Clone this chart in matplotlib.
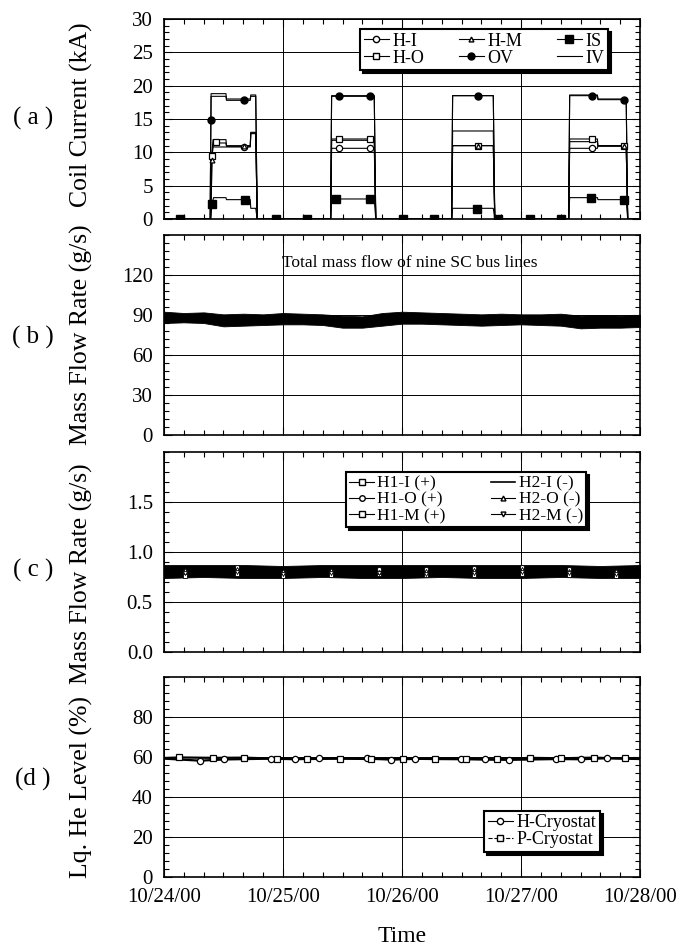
import matplotlib.pyplot as plt
from matplotlib.lines import Line2D
from matplotlib.ticker import MultipleLocator, FormatStrFormatter

plt.rcParams['font.family'] = ['Liberation Serif', 'DejaVu Serif']

# time axis in hours from 10/24/00 00:00
day_hours = [0, 24, 48, 72, 96]
day_labels = ['10/24/00', '10/25/00', '10/26/00', '10/27/00', '10/28/00']

# ==== (a) coil currents (kA) ====
iv_t = [0, 9.3, 9.5, 12.5, 12.6, 17.4, 17.5, 18.5, 18.8, 33.6, 33.8, 42.4, 42.7,
        58.0, 58.2, 66.4, 66.7, 81.6, 81.8, 87.4, 87.5, 93.2, 93.5, 96]
iv_v = [0, 0, 18.8, 18.8, 18.0, 18.0, 18.6, 18.6, 0, 0, 18.5, 18.5, 0,
        0, 18.5, 18.5, 0, 0, 18.6, 18.6, 18.0, 18.0, 0, 0]
ov_t = [0, 9.3, 9.5, 12.5, 12.6, 17.4, 17.5, 18.5, 18.8, 33.6, 33.8, 42.4, 42.7,
        58.0, 58.2, 66.4, 66.7, 81.6, 81.8, 87.4, 87.5, 93.2, 93.5, 96]
ov_v = [0, 0, 18.4, 18.4, 17.8, 17.8, 18.4, 18.4, 0, 0, 18.4, 18.4, 0,
        0, 18.5, 18.5, 0, 0, 18.5, 18.5, 17.9, 17.9, 0, 0]
hi_t = [0, 9.4, 9.8, 17.4, 17.5, 18.5, 18.8, 33.6, 33.8, 42.4, 42.7,
        58.0, 58.2, 66.4, 66.7, 81.6, 81.8, 87.4, 87.5, 93.2, 93.5, 96]
hi_v = [0, 0, 10.8, 10.8, 12.9, 12.9, 0, 0, 10.6, 10.6, 0,
        0, 13.2, 13.2, 0, 0, 10.6, 10.6, 11.0, 11.0, 0, 0]
ho_t = [0, 9.4, 9.6, 9.9, 12.5, 12.6, 17.4, 17.5, 18.5, 18.8, 33.6, 33.8, 42.4, 42.7,
        58.0, 58.2, 66.4, 66.7, 81.6, 81.8, 87.4, 87.5, 93.2, 93.5, 96]
ho_v = [0, 0, 9.4, 11.9, 11.9, 11.0, 11.0, 13.0, 13.0, 0, 0, 12.0, 12.0, 0,
        0, 11.0, 11.0, 0, 0, 12.0, 12.0, 11.0, 11.0, 0, 0]
hm_t = [0, 9.4, 9.6, 10.0, 12.5, 12.6, 17.4, 17.5, 18.5, 18.8, 33.6, 33.8, 42.4, 42.7,
        58.0, 58.2, 66.4, 66.7, 81.6, 81.8, 87.4, 87.5, 93.2, 93.5, 96]
hm_v = [0, 0, 8.9, 11.4, 11.4, 10.9, 10.9, 12.8, 12.8, 0, 0, 11.8, 11.8, 0,
        0, 11.0, 11.0, 0, 0, 11.6, 11.6, 10.9, 10.9, 0, 0]
is_t = [0, 9.4, 9.7, 10.0, 12.5, 12.6, 17.4, 17.5, 18.5, 18.8, 33.6, 33.8, 42.4, 42.7,
        58.0, 58.2, 66.4, 66.7, 81.6, 81.8, 87.4, 87.5, 93.2, 93.5, 96]
is_v = [0, 0, 2.3, 3.2, 3.2, 2.9, 2.9, 1.6, 1.6, 0, 0, 3.0, 3.0, 0,
        0, 1.6, 1.6, 0, 0, 3.2, 3.2, 2.9, 2.9, 0, 0]

# marker positions (sparse symbols on the curves)
hi_mt = [16.1, 35.2, 41.6, 86.4]
hi_mv = [10.8, 10.6, 10.6, 10.6]
ho_mt = [9.6, 10.4, 35.2, 41.6, 63.3, 86.4, 92.7]
ho_mv = [9.4, 11.6, 12.0, 12.0, 11.0, 12.0, 11.0]
hm_mt = [9.6, 16.1, 63.3, 92.7]
hm_mv = [8.9, 10.9, 11.0, 10.9]
ov_mt = [9.4, 16.1, 35.2, 41.6, 63.3, 86.4, 92.7]
ov_mv = [14.9, 17.8, 18.4, 18.4, 18.5, 18.5, 17.9]
is_mt = [3.2, 9.7, 16.3, 22.6, 28.9, 34.7, 41.6, 48.1, 54.5, 63.1, 67.4, 73.8, 80.1, 86.2, 92.7]
is_mv = [0, 2.3, 2.9, 0, 0, 3.0, 3.0, 0, 0, 1.5, 0, 0, 0, 3.2, 2.9]

# ==== (b) total mass flow envelope (g/s), every 4 h ====
b_t = [0, 4, 8, 12, 16, 20, 24, 28, 32, 36, 40, 44, 48,
       52, 56, 60, 64, 68, 72, 76, 80, 84, 88, 92, 96]
b_hi = [92.5, 91.5, 92.0, 90.5, 91.0, 90.5, 91.5, 91.0, 90.5, 89.5, 89.0, 91.5, 92.5,
        92.0, 91.5, 91.0, 90.5, 91.0, 90.5, 90.5, 91.0, 89.5, 90.0, 89.5, 90.0]
b_lo = [84.0, 84.5, 84.0, 81.5, 82.0, 82.5, 83.0, 83.0, 82.5, 80.5, 80.5, 82.0, 83.5,
        83.5, 83.0, 82.5, 82.0, 82.5, 83.0, 82.5, 82.0, 80.0, 80.5, 80.5, 81.0]

# ==== (c) bus line mass flow (g/s) ====
c_t = [0, 8, 16, 24, 32, 40, 48, 56, 64, 72, 80, 88, 96]
c_hi = [0.87, 0.87, 0.87, 0.86, 0.87, 0.87, 0.87, 0.87, 0.87, 0.87, 0.87, 0.86, 0.87]
c_lo = [0.74, 0.75, 0.74, 0.74, 0.75, 0.74, 0.74, 0.75, 0.74, 0.74, 0.75, 0.74, 0.74]
c_mt = [4.3, 14.7, 23.9, 33.6, 43.4, 52.9, 62.5, 72.1, 81.6, 91.2]
h1i_v = [0.80, 0.81, 0.79, 0.80, 0.81, 0.80, 0.80, 0.81, 0.80, 0.79]
h1o_v = [0.78, 0.85, 0.77, 0.78, 0.83, 0.83, 0.84, 0.85, 0.83, 0.80]
h1m_v = [0.76, 0.78, 0.76, 0.77, 0.78, 0.77, 0.77, 0.78, 0.77, 0.76]
h2o_v = [0.82, 0.83, 0.81, 0.82, 0.80, 0.81, 0.82, 0.83, 0.81, 0.81]
h2m_v = [0.79, 0.80, 0.78, 0.79, 0.79, 0.78, 0.79, 0.80, 0.79, 0.78]

# ==== (d) liquid He level (%) ====
hcry_t = [0, 7.3, 12.2, 21.5, 26.5, 31.3, 40.9, 45.8, 50.7, 59.8, 64.7, 69.6, 79.1, 84.0, 89.3, 96]
hcry_v = [59.2, 58.2, 58.8, 59.2, 58.9, 59.4, 59.3, 58.7, 59.1, 59.2, 58.8, 58.6, 59.0, 58.9, 59.4, 59.0]
pcry_t = [0, 3.1, 9.8, 16.2, 22.7, 28.9, 35.4, 41.8, 48.2, 54.7, 60.9, 67.1, 73.8, 80.0, 86.7, 92.9, 96]
pcry_v = [59.5, 59.8, 59.6, 59.7, 59.2, 59.0, 59.2, 59.0, 59.2, 59.0, 58.9, 58.9, 59.6, 59.4, 59.7, 59.3, 59.5]

fig = plt.figure(figsize=(6.89, 9.5), dpi=100)
L, W, H = 0.238, 0.691, 0.2105
bottoms = [0.7695, 0.5421, 0.3137, 0.0768]
axes = [fig.add_axes([L, b, W, H]) for b in bottoms]


def style_axis(ax, yticks, ylim, yminor, ylabel, label_y=0.5):
    ax.set_xlim(0, 96)
    ax.set_ylim(*ylim)
    ax.set_xticks(day_hours)
    ax.xaxis.set_minor_locator(MultipleLocator(4))
    ax.set_yticks(yticks)
    ax.yaxis.set_minor_locator(MultipleLocator(yminor))
    ax.tick_params(which='both', direction='in', top=True, right=True, labelsize=15)
    ax.tick_params(which='major', length=6, width=0.8, pad=8)
    ax.tick_params(which='minor', length=3.5, width=0.8)
    ax.grid(True, which='major', color='k', lw=0.7)
    for s in ax.spines.values():
        s.set_linewidth(1.2)
    ax.set_ylabel(ylabel, fontsize=18.5)
    ax.yaxis.set_label_coords(-0.15, label_y)


def boxed_legend(ax, handles, fs=12.5, **kw):
    leg = ax.legend(handles=handles, fancybox=False, shadow={'color': 'k', 'alpha': 1},
                    framealpha=1, edgecolor='k', fontsize=fs, handlelength=1.4,
                    handletextpad=0.2, borderpad=0.2, labelspacing=0.0,
                    borderaxespad=0, **kw)
    leg.get_frame().set_linewidth(1.5)
    return leg


# ---- (a) ----
ax = axes[0]
for t, v in [(iv_t, iv_v), (ov_t, ov_v), (hi_t, hi_v), (ho_t, ho_v), (hm_t, hm_v), (is_t, is_v)]:
    ax.plot(t, v, color='k', lw=0.8)
ax.plot(hi_mt, hi_mv, 'o', ms=4.5, mfc='w', mec='k', mew=0.9)
ax.plot(ho_mt, ho_mv, 's', ms=4.5, mfc='w', mec='k', mew=0.9)
ax.plot(hm_mt, hm_mv, '^', ms=3.5, mfc='w', mec='k', mew=0.9)
ax.plot(ov_mt, ov_mv, 'o', ms=5, color='k')
ax.plot(is_mt, is_mv, 's', ms=6, color='k')
style_axis(ax, [0, 5, 10, 15, 20, 25, 30], (0, 30), 1, 'Coil Current (kA)', 0.52)
ax.set_xticklabels([])
hdl = [Line2D([], [], color='k', lw=0.8, marker='o', ms=4.5, mfc='w', label='H-I'),
       Line2D([], [], color='k', lw=0.8, marker='s', ms=4.5, mfc='w', label='H-O'),
       Line2D([], [], color='k', lw=0.8, marker='^', ms=3.5, mfc='w', label='H-M'),
       Line2D([], [], color='k', lw=0.8, marker='o', ms=5, label='OV'),
       Line2D([], [], color='k', lw=0.8, marker='s', ms=6, label='IS'),
       Line2D([], [], color='k', lw=0.8, label='IV')]
boxed_legend(ax, hdl, fs=13, ncol=3, loc='upper right', bbox_to_anchor=(0.933, 0.95),
             columnspacing=1.9)

# ---- (b) ----
ax = axes[1]
ax.fill_between(b_t, b_lo, b_hi, color='k', lw=0.6)
ax.text(49.6, 129, 'Total mass flow of nine SC bus lines', ha='center', va='center', fontsize=12.5)
style_axis(ax, [0, 30, 60, 90, 120], (0, 150), 6, 'Mass Flow Rate (g/s)')
ax.set_xticklabels([])

# ---- (c) ----
ax = axes[2]
ax.fill_between(c_t, c_lo, c_hi, color='k', lw=0.6)
ax.plot(c_mt, h1i_v, 's', ms=3, mfc='w', mec='k', mew=0.6)
ax.plot(c_mt, h1o_v, 'o', ms=3, mfc='w', mec='k', mew=0.6)
ax.plot(c_mt, h1m_v, 's', ms=3, mfc='w', mec='k', mew=0.6)
ax.plot(c_mt, h2o_v, '^', ms=3, mfc='w', mec='k', mew=0.6)
ax.plot(c_mt, h2m_v, 'v', ms=3, mfc='w', mec='k', mew=0.6)
style_axis(ax, [0, 0.5, 1.0, 1.5], (0, 2.0), 0.1, 'Mass Flow Rate (g/s)', 0.39)
ax.yaxis.set_major_formatter(FormatStrFormatter('%.1f'))
ax.set_xticklabels([])
hdl = [Line2D([], [], color='k', lw=0.8, marker='s', ms=4, mfc='w', label='H1-I (+)'),
       Line2D([], [], color='k', lw=0.8, marker='o', ms=4, mfc='w', label='H1-O (+)'),
       Line2D([], [], color='k', lw=0.8, marker='s', ms=4, mfc='w', label='H1-M (+)'),
       Line2D([], [], color='k', lw=1.2, label='H2-I (-)'),
       Line2D([], [], color='k', lw=0.8, marker='^', ms=3.5, mfc='w', label='H2-O (-)'),
       Line2D([], [], color='k', lw=0.8, marker='v', ms=3.5, mfc='w', label='H2-M (-)')]
boxed_legend(ax, hdl, fs=12.5, ncol=2, loc='upper right', bbox_to_anchor=(0.887, 0.9),
             columnspacing=2.6)

# ---- (d) ----
ax = axes[3]
ax.plot(hcry_t, hcry_v, color='k', lw=1.6)
ax.plot(pcry_t, pcry_v, color='k', lw=1.6)
ax.plot(hcry_t[1:-1], hcry_v[1:-1], 'o', ms=4.5, mfc='w', mec='k', mew=0.9)
ax.plot(pcry_t[1:-1], pcry_v[1:-1], 's', ms=5, mfc='w', mec='k', mew=0.9)
style_axis(ax, [0, 20, 40, 60, 80], (0, 100), 4, 'Lq. He Level (%)', 0.45)
ax.set_xticklabels(day_labels)
ax.tick_params(axis='x', which='major', pad=8)
hdl = [Line2D([], [], color='k', lw=0.8, marker='o', ms=4.5, mfc='w', label='H-Cryostat'),
       Line2D([], [], color='k', lw=0.8, ls='--', marker='s', ms=4.5, mfc='w', label='P-Cryostat')]
boxed_legend(ax, hdl, fs=13, loc='lower right', bbox_to_anchor=(0.916, 0.125))

for lab, fy in zip(['( a )', '( b )', '( c )', '(d )'], [0.875, 0.645, 0.40, 0.179]):
    fig.text(0.048, fy, lab, ha='center', va='center', fontsize=18)
fig.text(0.583, 1 - 937 / 950, 'Time', ha='center', va='center', fontsize=17)

fig.savefig('out.png', dpi=100)
